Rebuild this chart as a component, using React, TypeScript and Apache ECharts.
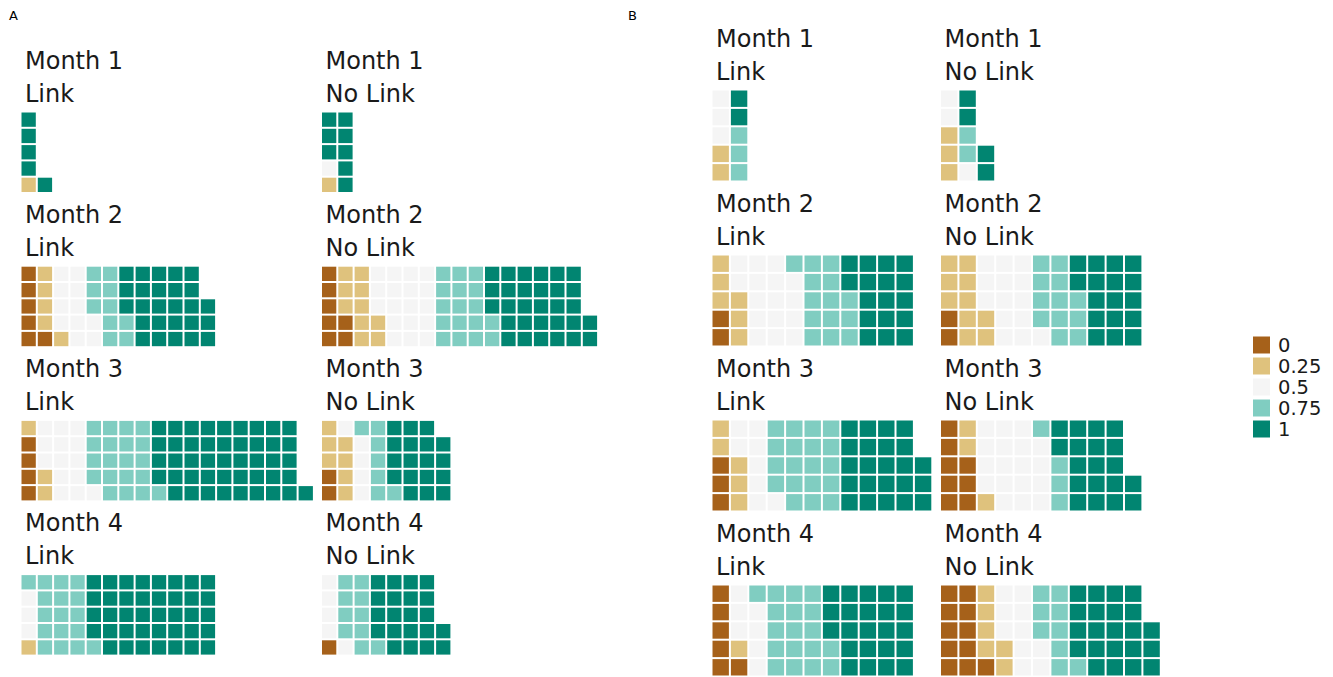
import React, { useEffect, useRef } from "react";
import * as echarts from "echarts";

// Legend levels and colours (BrBG 5)
const valueLevels = ["0", "0.25", "0.5", "0.75", "1"];
const levelColors = ["#A6611A", "#DFC27D", "#F5F5F5", "#80CDC1", "#018571"];
const months = ["Month 1", "Month 2", "Month 3", "Month 4"];
const groups = ["Link", "No Link"];

// Number of cells per level [0, 0.25, 0.5, 0.75, 1] for each month
const countsA_Link = [
  [0, 1, 0, 0, 5],
  [6, 5, 11, 10, 26],
  [4, 3, 14, 20, 45],
  [0, 1, 3, 17, 39],
];
const countsA_NoLink = [
  [0, 1, 1, 0, 8],
  [7, 10, 18, 17, 30],
  [2, 7, 5, 7, 18],
  [1, 0, 5, 10, 21],
];
const countsB_Link = [
  [0, 2, 3, 3, 2],
  [2, 6, 16, 14, 17],
  [3, 5, 8, 19, 23],
  [6, 1, 7, 18, 23],
];
const countsB_NoLink = [
  [0, 3, 3, 2, 4],
  [2, 10, 14, 12, 17],
  [8, 3, 18, 4, 19],
  [11, 6, 10, 9, 22],
];

const FONT = "DejaVu Sans";
const TEXT_COLOR = "#1A1A1A";

function cellsFor(counts: number[]) {
  const out: number[][][] = valueLevels.map(() => []);
  let i = 0;
  counts.forEach((n, lvl) => {
    for (let k = 0; k < n; k++) {
      const col = Math.floor(i / 5);
      const row = i % 5;
      out[lvl].push([col + 0.5, row + 0.5]);
      i++;
    }
  });
  return out;
}

export default function App() {
  const ref = useRef<HTMLDivElement>(null);
  useEffect(() => {
    if (!ref.current) return;
    const chart = echarts.init(ref.current, null, { renderer: "svg" });

    const blocks = [
      { tag: "A", tagX: 9, data: [countsA_Link, countsA_NoLink], lefts: [20.5, 321], top0: 111.5, rowStep: 154.2, pitch: 16.3, maxCols: 18 },
      { tag: "B", tagX: 628, data: [countsB_Link, countsB_NoLink], lefts: [711.5, 940], top0: 89.5, rowStep: 165, pitch: 18.4, maxCols: 12 },
    ];

    const grids: any[] = [];
    const xAxes: any[] = [];
    const yAxes: any[] = [];
    const series: any[] = [];
    const graphics: any[] = [];

    blocks.forEach((b) => {
      graphics.push({
        type: "text",
        x: b.tagX,
        y: 15,
        style: { text: b.tag, fontSize: 13, fontFamily: FONT, fill: "#000", textVerticalAlign: "middle" },
      });
      months.forEach((m, mi) => {
        const top = b.top0 + b.rowStep * mi;
        groups.forEach((g, gi) => {
          const left = b.lefts[gi];
          const idx = grids.length;
          grids.push({ left, top, width: b.maxCols * b.pitch, height: 5 * b.pitch, containLabel: false });
          xAxes.push({ type: "value", gridIndex: idx, min: 0, max: b.maxCols, show: false });
          yAxes.push({ type: "value", gridIndex: idx, min: 0, max: 5, show: false });
          const cells = cellsFor(b.data[gi][mi]);
          cells.forEach((pts, lvl) => {
            series.push({
              type: "scatter",
              name: valueLevels[lvl],
              xAxisIndex: idx,
              yAxisIndex: idx,
              data: pts,
              symbol: "rect",
              symbolSize: b.pitch - 2,
              itemStyle: { color: levelColors[lvl], opacity: 1 },
              silent: true,
            });
          });
          graphics.push({
            type: "text",
            x: left + 4.5,
            y: top - 51,
            style: { text: m, fontSize: 24, fontFamily: FONT, fill: TEXT_COLOR, textVerticalAlign: "middle" },
          });
          graphics.push({
            type: "text",
            x: left + 4.5,
            y: top - 18,
            style: { text: g, fontSize: 24, fontFamily: FONT, fill: TEXT_COLOR, textVerticalAlign: "middle" },
          });
        });
      });
    });

    chart.setOption({
      animation: false,
      backgroundColor: "#FFFFFF",
      grid: grids,
      xAxis: xAxes,
      yAxis: yAxes,
      series,
      graphic: graphics,
      legend: {
        data: valueLevels,
        orient: "vertical",
        left: 1248,
        top: 330,
        padding: 5,
        itemWidth: 17,
        itemHeight: 17,
        itemGap: 1,
        icon: "rect",
        selectedMode: false,
        textStyle: { fontSize: 19.5, fontFamily: FONT, color: TEXT_COLOR, padding: [0, 0, 0, 3] },
      },
    });
    return () => chart.dispose();
  }, []);
  return (
    <div
      ref={ref}
      style={{ position: "fixed", left: 0, top: 0, width: 1333, height: 677 }}
    />
  );
}
